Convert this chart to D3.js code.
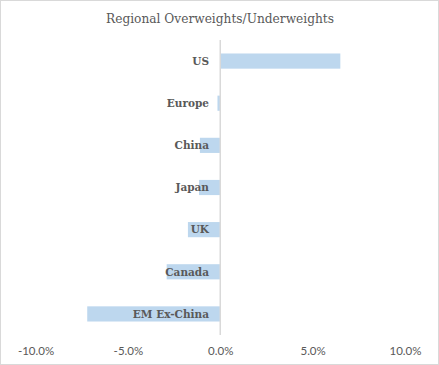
<!DOCTYPE html>
<html>
<head>
<meta charset="utf-8">
<script src="https://cdn.jsdelivr.net/npm/d3@7"></script>
<style>
  body { margin: 0; background: #fff; }
</style>
</head>
<body>
<div id="chart"></div>
<script>
const W = 439, H = 365;

// Data

const regions = ["US", "Europe", "China", "Japan", "UK", "Canada", "EM Ex-China"];
const weights = [6.5, -0.15, -1.1, -1.15, -1.75, -2.9, -7.2];
const tickValues = [-10, -5, 0, 5, 10];

const data = regions.map((r, i) => ({ region: r, value: weights[i] }));

// Scales

const x = d3.scaleLinear()
  .domain([-10, 10])
  .range([35.5, 405]);

const y = d3.scaleBand()
  .domain(regions)
  .range([40, 335])
  .paddingInner(0.64)
  .paddingOuter(0.32);

// Svg

const svg = d3.select("#chart")
  .append("svg")
  .attr("width", W)
  .attr("height", H);

svg.append("rect")
  .attr("x", 0.5)
  .attr("y", 0.5)
  .attr("width", W - 1)
  .attr("height", H - 1)
  .attr("fill", "#fff")
  .attr("stroke", "#d9d9d9");

// Title

svg.append("text")
  .attr("x", 220)
  .attr("y", 23)
  .attr("text-anchor", "middle")
  .style("font-family", "'DejaVu Serif', serif")
  .style("font-size", "12.2px")
  .style("fill", "#595959")
  .text("Regional Overweights/Underweights");

// Bars

svg.selectAll(".bar")
  .data(data)
  .join("rect")
  .attr("class", "bar")
  .attr("x", d => x(Math.min(0, d.value)))
  .attr("width", d => Math.abs(x(d.value) - x(0)))
  .attr("y", d => y(d.region))
  .attr("height", y.bandwidth())
  .attr("fill", "#bdd7ee");

// Zero line

svg.append("line")
  .attr("x1", x(0))
  .attr("x2", x(0))
  .attr("y1", 40)
  .attr("y2", 335)
  .attr("stroke", "#d9d9d9")
  .attr("stroke-width", 1.5);

// Category labels

svg.selectAll(".lbl")
  .data(data)
  .join("text")
  .attr("class", "lbl")
  .attr("x", 209)
  .attr("y", d => y(d.region) + y.bandwidth() / 2)
  .attr("dy", "0.36em")
  .attr("text-anchor", "end")
  .style("font-family", "'DejaVu Serif', serif")
  .style("font-weight", "bold")
  .style("font-size", "10.5px")
  .style("fill", "#595959")
  .text(d => d.region);

// X axis tick labels

const xAxis = svg.append("g")
  .attr("transform", "translate(0,340)")
  .call(d3.axisBottom(x)
    .tickValues(tickValues)
    .tickSize(0)
    .tickPadding(7)
    .tickFormat(d => d.toFixed(1) + "%"));

xAxis.select(".domain").remove();
xAxis.selectAll(".tick text")
  .style("font-family", "Lato, sans-serif")
  .style("font-size", "11.5px")
  .style("fill", "#595959");
</script>
</body>
</html>
